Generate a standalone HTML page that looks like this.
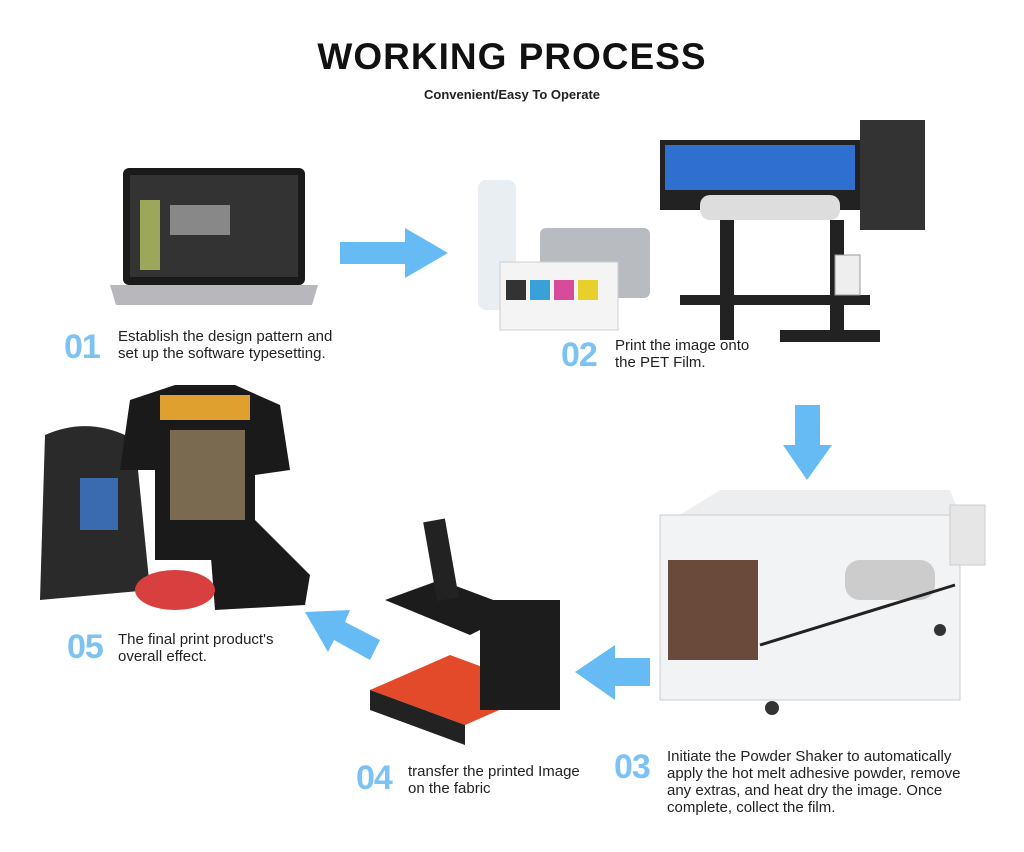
<!DOCTYPE html>
<html><head><meta charset="utf-8"><style>
body{margin:0;width:1024px;height:852px;background:#fff;position:relative;overflow:hidden;font-family:"Liberation Sans",sans-serif}
.a{position:absolute}
.t{position:absolute;font-size:15px;line-height:17px;color:#222}
.n{position:absolute;font-size:34px;font-weight:bold;color:#7cc3f3;letter-spacing:-1px;line-height:34px}
</style></head><body>
<div class="a" style="left:0;width:1024px;top:36px;text-align:center;font-size:37px;font-weight:bold;color:#111;letter-spacing:1px">WORKING PROCESS</div>
<div class="a" style="left:0;width:1024px;top:87px;text-align:center;font-size:13px;font-weight:bold;color:#222">Convenient/Easy To Operate</div>

<svg class="a" style="left:0;top:0" width="1024" height="852">
<!-- laptop -->
<rect x="123" y="168" width="182" height="117" rx="6" fill="#1a1a1a"/>
<rect x="130" y="175" width="168" height="102" fill="#333"/>
<rect x="140" y="200" width="20" height="70" fill="#c9d86a" opacity=".7"/>
<rect x="170" y="205" width="60" height="30" fill="#888"/>
<path d="M110 285 H318 L312 305 H116 Z" fill="#b8b8bc"/>
<!-- arrow 1 -->
<path d="M340 242 H405 V228 L448 253 L405 278 V264 H340 Z" fill="#66bbf5"/>
<!-- supplies -->
<rect x="478" y="180" width="38" height="130" rx="8" fill="#e8eef2"/>
<rect x="540" y="228" width="110" height="70" rx="6" fill="#b8bcc0"/>
<rect x="500" y="262" width="118" height="68" fill="#f4f4f4" stroke="#ccc"/>
<rect x="506" y="280" width="20" height="20" fill="#333"/><rect x="530" y="280" width="20" height="20" fill="#3aa0d8"/><rect x="554" y="280" width="20" height="20" fill="#d84a9a"/><rect x="578" y="280" width="20" height="20" fill="#e8d02a"/>
<!-- printer -->
<rect x="660" y="140" width="205" height="70" fill="#222"/>
<rect x="665" y="145" width="190" height="45" fill="#2f6fd0"/>
<rect x="860" y="120" width="65" height="110" fill="#333"/>
<rect x="700" y="195" width="140" height="25" rx="10" fill="#ddd"/>
<rect x="720" y="220" width="14" height="120" fill="#222"/><rect x="830" y="220" width="14" height="120" fill="#222"/>
<rect x="680" y="295" width="190" height="10" fill="#222"/>
<rect x="780" y="330" width="100" height="12" fill="#222"/>
<rect x="835" y="255" width="25" height="40" fill="#eee" stroke="#999"/>
<!-- arrow down -->
<path d="M795 405 H820 V445 H832 L807 480 L783 445 H795 Z" fill="#66bbf5"/>
<!-- shaker -->
<path d="M680 515 L720 490 H950 L960 515 Z" fill="#eceef0"/>
<rect x="660" y="515" width="300" height="185" fill="#f2f3f4" stroke="#ccc"/>
<rect x="950" y="505" width="35" height="60" fill="#e6e6e6" stroke="#ccc"/>
<rect x="668" y="560" width="90" height="100" fill="#6a4a3a"/>
<rect x="845" y="560" width="90" height="40" rx="15" fill="#ccc"/>
<line x1="760" y1="645" x2="955" y2="585" stroke="#222" stroke-width="3"/>
<circle cx="772" cy="708" r="7" fill="#333"/><circle cx="940" cy="630" r="6" fill="#333"/>
<!-- arrow left 3 -->
<path d="M650 658 H615 V645 L575 672 L615 700 V686 H650 Z" fill="#66bbf5"/>
<!-- heat press -->
<path d="M370 690 L450 655 L545 690 L465 725 Z" fill="#e24a2a"/>
<path d="M370 690 L465 725 V745 L370 710 Z" fill="#222"/>
<rect x="480" y="600" width="80" height="110" fill="#1c1c1c"/>
<path d="M385 600 L440 580 L520 610 L470 635 Z" fill="#1c1c1c"/>
<rect x="430" y="520" width="22" height="80" fill="#222" transform="rotate(-10 440 560)"/>
<!-- arrow up-left 5 -->
<path d="M380 640 L345 622 L350 610 L305 612 L328 652 L334 640 L370 660 Z" fill="#66bbf5"/>
<!-- products -->
<path d="M45 435 Q90 415 135 440 L150 590 L40 600 Z" fill="#2a2a2a"/>
<rect x="80" y="478" width="38" height="52" fill="#3a6ab0"/>
<path d="M130 400 L175 385 H235 L280 405 L290 470 L255 475 L255 560 L155 560 L155 470 L120 470 Z" fill="#1a1a1a"/>
<rect x="170" y="430" width="75" height="90" fill="#7a6a50"/>
<rect x="160" y="395" width="90" height="25" fill="#e0a030"/>
<path d="M210 545 L255 520 L310 575 L305 605 L215 610 Z" fill="#1a1a1a"/>
<ellipse cx="175" cy="590" rx="40" ry="20" fill="#d84040"/>
</svg>

<div class="n" style="left:64px;top:330px">01</div>
<div class="t" style="left:118px;top:328px">Establish the design pattern and<br>set up the software typesetting.</div>
<div class="n" style="left:561px;top:338px">02</div>
<div class="t" style="left:615px;top:337px">Print the image onto<br>the PET Film.</div>
<div class="n" style="left:614px;top:750px">03</div>
<div class="t" style="left:667px;top:748px">Initiate the Powder Shaker to automatically<br>apply the hot melt adhesive powder, remove<br>any extras, and heat dry the image. Once<br>complete, collect the film.</div>
<div class="n" style="left:356px;top:761px">04</div>
<div class="t" style="left:408px;top:763px">transfer the printed Image<br>on the fabric</div>
<div class="n" style="left:67px;top:630px">05</div>
<div class="t" style="left:118px;top:631px">The final print product's<br>overall effect.</div>
</body></html>
